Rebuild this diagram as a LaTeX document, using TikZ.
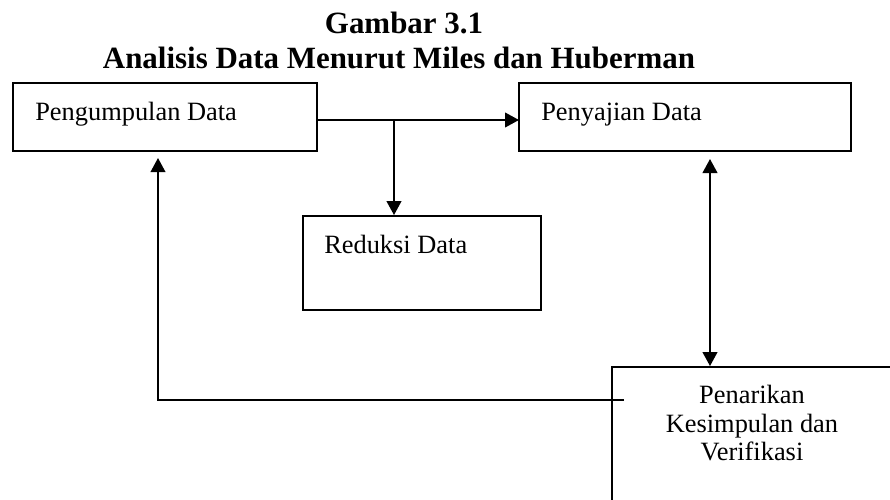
\documentclass[tikz,border=0pt]{standalone}
\usepackage{fontspec}
\setmainfont{Liberation Serif}
\usetikzlibrary{arrows.meta}
\begin{document}
\begin{tikzpicture}[x=0.75pt,y=-0.75pt,
  box/.style={draw,line width=1.4pt,rectangle,inner sep=0pt},
  lbl/.style={inner sep=0pt,anchor=base west,font=\fontsize{19.8}{24}\selectfont},
  lblc/.style={inner sep=0pt,anchor=base,font=\fontsize{19.8}{24}\selectfont},
  ttl/.style={inner sep=0pt,anchor=base,font=\fontsize{23.2}{28}\selectfont\bfseries},
  arr/.style={line width=1.5pt,-{Triangle[length=10.5pt,width=11pt]}},
  arrb/.style={line width=1.5pt,{Triangle[length=10.5pt,width=11pt]}-{Triangle[length=10.5pt,width=11pt]}},
  fb/.style={line width=1.2pt,-{Triangle[length=10.5pt,width=11pt]}}]
\useasboundingbox (0,0) rectangle (890,500);
\clip (0,0) rectangle (890,500);
\fill[white] (0,0) rectangle (890,500);
% titles
\node[ttl] (t1) at (404,33) {Gambar 3.1};
\node[ttl] (t2) at (399,68) {Analisis Data Menurut Miles dan Huberman};
% boxes
\node[box,minimum width=228pt,minimum height=51pt] (b1) at (165,117) {};
\node[box,minimum width=249pt,minimum height=51pt] (b2) at (685,117) {};
\node[box,minimum width=178.5pt,minimum height=70.5pt] (b3) at (422,263) {};
\node[box,minimum width=216pt,minimum height=117pt] (b4) at (756,445) {};
% labels
\node[lbl] (l1) at (35,120) {Pengumpulan Data};
\node[lbl] (l2) at (541,120) {Penyajian Data};
\node[lbl] (l3) at (324,253) {Reduksi Data};
\node[lblc] (l4a) at (752,403) {Penarikan};
\node[lblc] (l4b) at (752,432) {Kesimpulan dan};
\node[lblc] (l4c) at (752,460) {Verifikasi};
% connectors
\coordinate (s1) at (317,120);
\coordinate (e1) at (519,120);
\coordinate (j) at (394,120);
\coordinate (dtop) at (710,159);
\coordinate (fbs) at (624,400);
\coordinate (fbc) at (158,400);
\coordinate (fbe) at (158,158);
\draw[arr] (s1) -- (e1);
\draw[arr] (j) -- (j |- b3.north);
\draw[arrb] (dtop) -- (dtop |- b4.north);
\draw[fb] (fbs) -- (fbc) -- (fbe);
\end{tikzpicture}
\end{document}
